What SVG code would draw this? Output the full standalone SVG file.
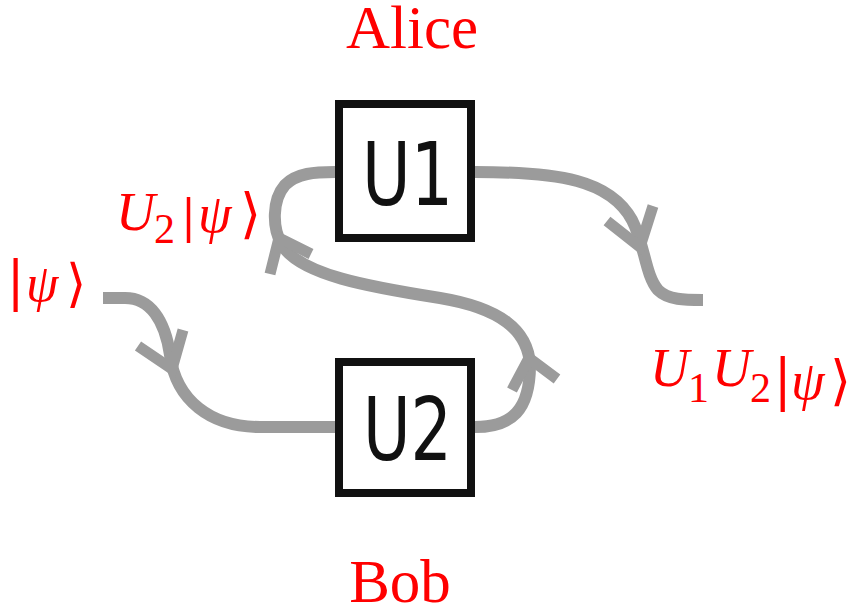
<svg xmlns="http://www.w3.org/2000/svg" width="854" height="605" viewBox="0 0 854 605">
  <style>
    .wire { fill: none; stroke: #9b9b9b; stroke-width: 12; }
    .head { fill: none; stroke: #9b9b9b; stroke-width: 11; stroke-linejoin: miter; }
    .box { fill: #ffffff; stroke: #111111; stroke-width: 8; }
    .gate { font-family: "DejaVu Sans", "Liberation Sans", sans-serif; font-size: 88px; fill: #111111; }
    .lbl { font-family: "Liberation Serif", "Times New Roman", "DejaVu Serif", serif; fill: #ff0000; }
    .it { font-style: italic; }
    .bar { font-weight: bold; }
  </style>

  <!-- wires between the two gates -->
  <g id="connectors">
    <!-- input |psi> into U2 -->
    <path class="wire" d="M103,298 L125,298 C150,298 165,320 170,355 C176,400 210,427 260,427 L335,427"/>
    <polyline class="head" points="138,346 172,369 183,330"/>
    <!-- U2 output loops up into U1 -->
    <path class="wire" d="M475,427 C512,427 530,410 530,365 C528,330 500,308 440,298 C370,287 300,275 282,245 C272,228 272,200 285,185 C297,173 315,172 335,172"/>
    <polyline class="head" points="512,390 529,358 557,379"/>
    <polyline class="head" points="270,274 279,238 311,254"/>
    <!-- U1 output -->
    <path class="wire" d="M475,172 C560,172 610,180 632,220 C645,245 645,275 658,290 C668,300 685,300 703,300"/>
    <polyline class="head" points="607,221 640,247 653,206"/>
  </g>

  <g id="u1">
    <rect class="box" x="339" y="104" width="132" height="134"/>
    <text class="gate" x="362" y="205" textLength="91" lengthAdjust="spacingAndGlyphs">U1</text>
  </g>

  <g id="u2">
    <rect class="box" x="339" y="362" width="132" height="131"/>
    <text class="gate" x="363" y="460" textLength="89" lengthAdjust="spacingAndGlyphs">U2</text>
  </g>

  <g id="alice">
    <text class="lbl" x="412" y="48" font-size="61" text-anchor="middle">Alice</text>
  </g>

  <g id="bob">
    <text class="lbl" x="400" y="602" font-size="61" text-anchor="middle">Bob</text>
  </g>

  <g id="label-psi">
    <text class="lbl" y="301" font-size="52"><tspan class="bar" x="9" y="299" font-size="60">|</tspan><tspan class="it" x="26" y="301">ψ</tspan><tspan x="66">⟩</tspan></text>
  </g>

  <g id="label-u2psi">
    <text class="lbl" y="230" font-size="54"><tspan class="it" x="116">U</tspan><tspan x="154" y="243" font-size="42">2</tspan><tspan class="bar" x="183" y="232" font-size="50">|</tspan><tspan class="it" x="198" y="232">ψ</tspan><tspan x="240" y="232">⟩</tspan></text>
  </g>

  <g id="label-u1u2psi">
    <text class="lbl" y="386" font-size="54"><tspan class="it" x="650">U</tspan><tspan x="688" y="402" font-size="42">1</tspan><tspan class="it" x="712" y="386">U</tspan><tspan x="750" y="402" font-size="42">2</tspan><tspan class="bar" x="776" y="399" font-size="61">|</tspan><tspan class="it" x="791" y="399">ψ</tspan><tspan x="830" y="399">⟩</tspan></text>
  </g>
</svg>
